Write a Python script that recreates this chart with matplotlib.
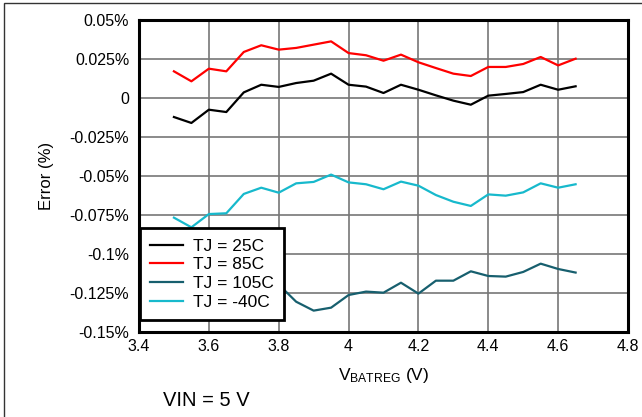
import numpy as np
import matplotlib
matplotlib.use("Agg")
import matplotlib.pyplot as plt
from matplotlib.patches import Rectangle

plt.rcParams['font.family'] = ['Liberation Sans', 'DejaVu Sans']
plt.rcParams['mathtext.fontset'] = 'custom'
plt.rcParams['mathtext.rm'] = 'Liberation Sans'

# Donnees
vbat = [3.50, 3.55, 3.60, 3.65, 3.70, 3.75, 3.80, 3.85, 3.90, 3.95, 4.00, 4.05,
        4.10, 4.15, 4.20, 4.25, 4.30, 4.35, 4.40, 4.45, 4.50, 4.55, 4.60, 4.65]

err_25 = [-0.0122, -0.0160, -0.0075, -0.0090, 0.0036, 0.0085, 0.0071, 0.0096,
          0.0111, 0.0156, 0.0085, 0.0073, 0.0032, 0.0085, 0.0053, 0.0017,
          -0.0017, -0.0043, 0.0015, 0.0026, 0.0038, 0.0085, 0.0053, 0.0075]
err_85 = [0.0171, 0.0107, 0.0188, 0.0171, 0.0295, 0.0338, 0.0310, 0.0321,
          0.0342, 0.0363, 0.0288, 0.0274, 0.0239, 0.0278, 0.0229, 0.0192,
          0.0156, 0.0141, 0.0199, 0.0199, 0.0218, 0.0263, 0.0209, 0.0252]
err_105 = [-0.1180, -0.1210, -0.1170, -0.1190, -0.1210, -0.1200, -0.1196, -0.1306,
           -0.1363, -0.1344, -0.1263, -0.1241, -0.1248, -0.1184, -0.1254, -0.1171,
           -0.1171, -0.1111, -0.1141, -0.1145, -0.1115, -0.1062, -0.1096, -0.1119]
err_m40 = [-0.0767, -0.0829, -0.0744, -0.0739, -0.0615, -0.0575, -0.0607, -0.0547,
           -0.0538, -0.0491, -0.0541, -0.0553, -0.0585, -0.0536, -0.0562, -0.0622,
           -0.0665, -0.0692, -0.0618, -0.0626, -0.0605, -0.0547, -0.0575, -0.0553]

labels = ["TJ = 25C", "TJ = 85C", "TJ = 105C", "TJ = -40C"]
colors = ["#000000", "#ff0000", "#175f6e", "#17b9cc"]

xticks = [3.4, 3.6, 3.8, 4.0, 4.2, 4.4, 4.6, 4.8]
xlabels = ["3.4", "3.6", "3.8", "4", "4.2", "4.4", "4.6", "4.8"]
yticks = [0.05, 0.025, 0, -0.025, -0.05, -0.075, -0.1, -0.125, -0.15]
ylabels = ["0.05%", "0.025%", "0", "-0.025%", "-0.05%", "-0.075%", "-0.1%", "-0.125%", "-0.15%"]

fig = plt.figure(figsize=(6.42, 4.17), dpi=100)
ax = fig.add_axes([139/642, 1-332/417, (628-139)/642, (332-20)/417])

for y, lab, c in zip([err_25, err_85, err_105, err_m40], labels, colors):
    ax.plot(vbat, y, color=c, lw=1.6, label=lab)

ax.set_xlim(3.4, 4.8)
ax.set_ylim(-0.15, 0.05)
ax.set_xticks(xticks, xlabels)
ax.set_yticks(yticks, ylabels)
ax.tick_params(length=0, labelsize=11.5, pad=5)
ax.tick_params(axis='y', pad=7)
ax.grid(color="#777777", lw=1.2)
ax.set_axisbelow(True)
for s in ax.spines.values():
    s.set_linewidth(2.2)

ax.set_xlabel(r"$\mathregular{V_{BATREG}}$ (V)", fontsize=12.5, labelpad=9)
ax.set_ylabel("Error (%)", fontsize=12, labelpad=11)

leg = ax.legend(loc="lower left", bbox_to_anchor=(0.002, 0.038), borderaxespad=0,
                fancybox=False, framealpha=1, edgecolor="black", fontsize=12.5,
                handlelength=1.9, handletextpad=0.55, labelspacing=0.2,
                borderpad=0.6)
leg.get_frame().set_linewidth(2)

fig.text(163/642, 1-400/417, "VIN = 5 V", fontsize=14.5, va="center", ha="left")

# cadre exterieur
fig.patches.append(Rectangle((4/642, -0.1), 1.2, 1-3/417+0.1, transform=fig.transFigure,
                             fill=False, edgecolor="#333333", lw=1))

fig.savefig("out.png", dpi=100)
